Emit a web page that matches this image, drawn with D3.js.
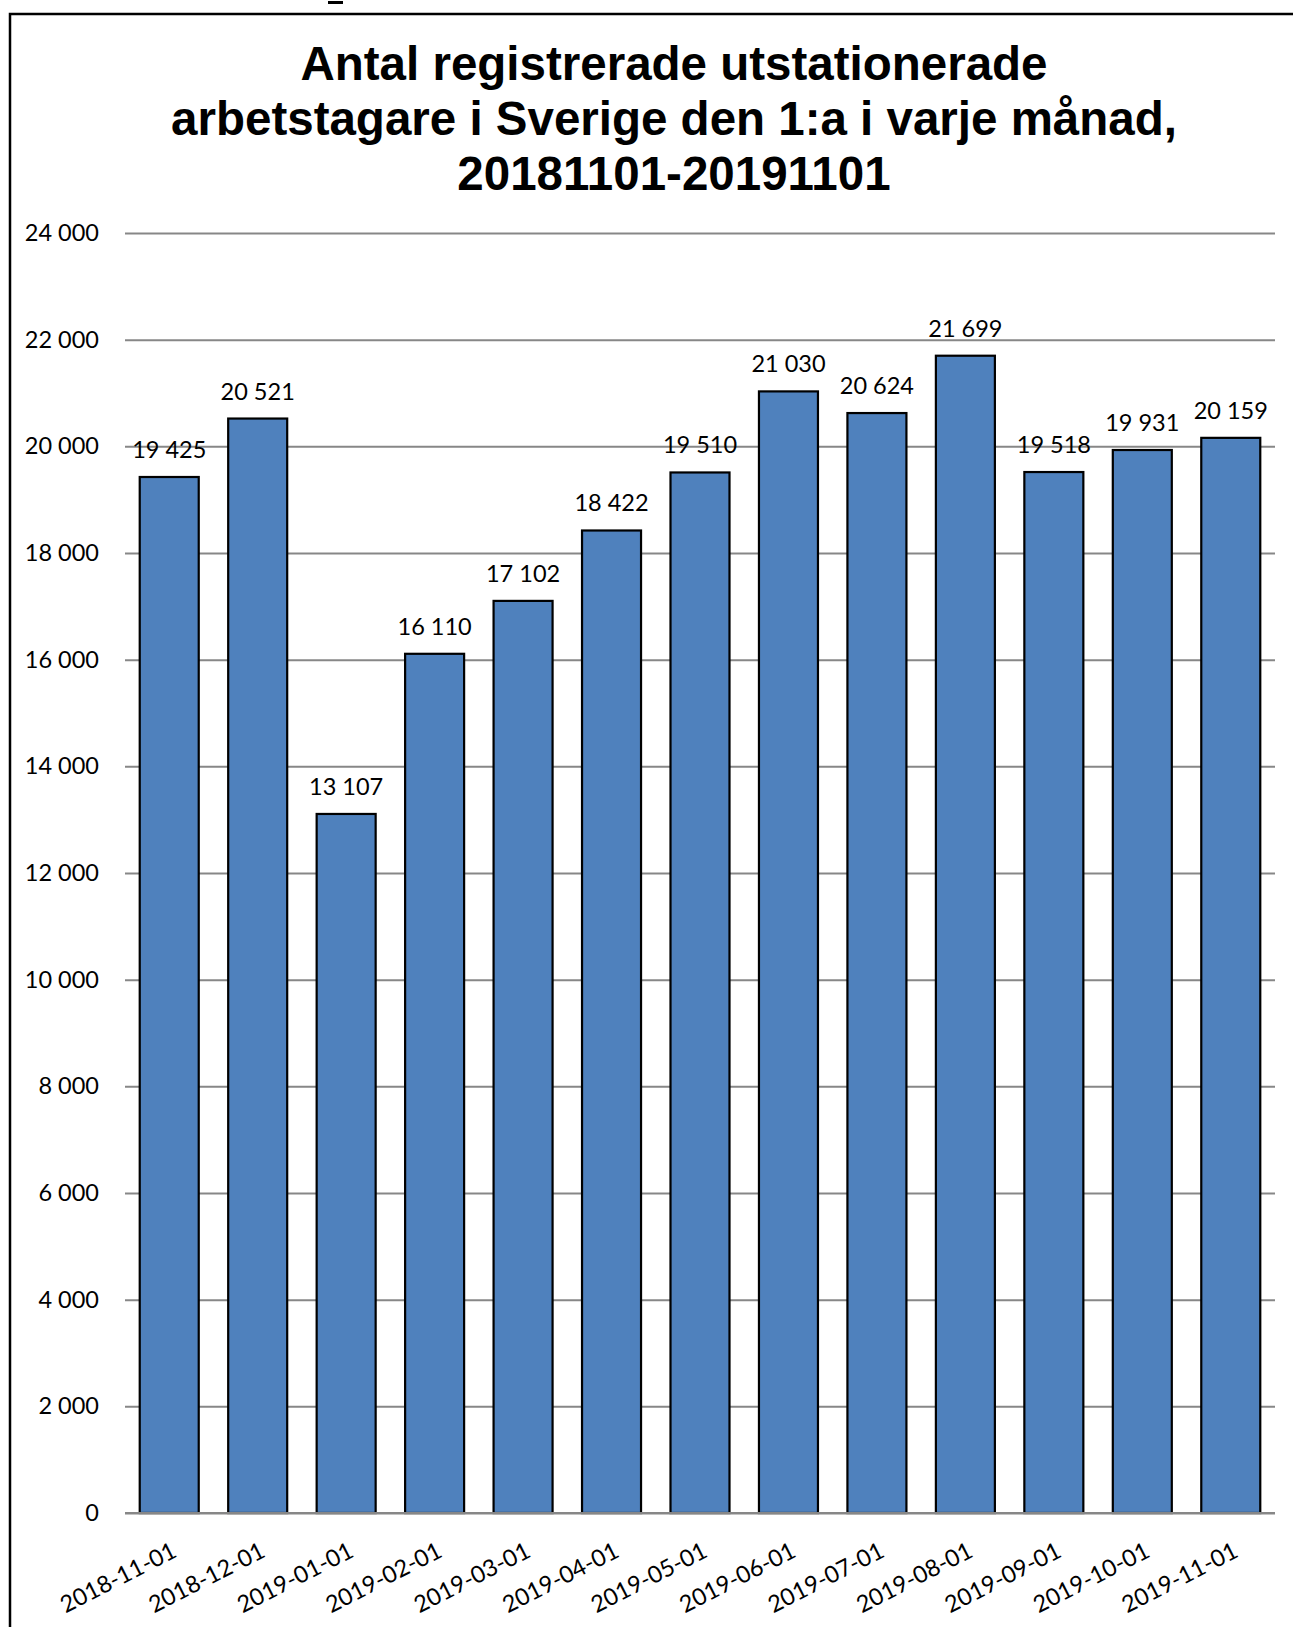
<!DOCTYPE html>
<html>
<head>
<meta charset="utf-8">
<script src="https://cdn.jsdelivr.net/npm/d3@7"></script>
<style>
  html, body { margin: 0; padding: 0; background: #fff; }
  svg { display: block; }
</style>
</head>
<body>
<script>
const titleLines = [
  "Antal registrerade utstationerade",
  "arbetstagare i Sverige den 1:a i varje månad,",
  "20181101-20191101"
];
const categories = [
  "2018-11-01","2018-12-01","2019-01-01","2019-02-01","2019-03-01","2019-04-01",
  "2019-05-01","2019-06-01","2019-07-01","2019-08-01","2019-09-01","2019-10-01","2019-11-01"
];
const values = [19425, 20521, 13107, 16110, 17102, 18422, 19510, 21030, 20624, 21699, 19518, 19931, 20159];
const yTicks = [0, 2000, 4000, 6000, 8000, 10000, 12000, 14000, 16000, 18000, 20000, 22000, 24000];

const W = 1293, H = 1627;
const fmt = v => d3.format(",")(v).replace(/,/g, " ");

const svg = d3.select("body").append("svg").attr("width", W).attr("height", H);

// frame
svg.append("rect").attr("x", 10).attr("y", 14).attr("width", 1400).attr("height", 1700)
  .attr("fill", "none").attr("stroke", "#000").attr("stroke-width", 2.5);
svg.append("line").attr("x1", 328).attr("x2", 343).attr("y1", 2.5).attr("y2", 2.5)
  .attr("stroke", "#000").attr("stroke-width", 3);

// title
svg.append("g").selectAll("text").data(titleLines).join("text")
  .attr("x", 674).attr("y", (d, i) => 80 + i * 55)
  .attr("text-anchor", "middle")
  .attr("font-family", "'Liberation Sans', Arial, sans-serif")
  .attr("font-weight", "bold").attr("font-size", 47.5)
  .attr("fill", "#000").text(d => d);

const x = d3.scaleBand().domain(categories).range([125, 1275]).paddingInner(0.333).paddingOuter(0.1665);
const y = d3.scaleLinear().domain([0, 24000]).range([1513, 233]);

// grid
const yAxis = d3.axisLeft(y).tickValues(yTicks).tickSize(-(1275 - 125)).tickFormat(fmt).tickPadding(26);
const gy = svg.append("g").attr("transform", "translate(125,0)").call(yAxis);
gy.select(".domain").remove();
gy.selectAll(".tick line").attr("stroke", "#878787").attr("stroke-width", 2);
gy.selectAll(".tick text").attr("font-family", "Lato, 'Open Sans', sans-serif")
  .attr("font-size", 23.5).attr("fill", "#000");

// bars
svg.append("g").selectAll("rect").data(values).join("rect")
  .attr("x", (d, i) => x(categories[i]))
  .attr("width", x.bandwidth())
  .attr("y", d => y(d))
  .attr("height", d => y(0) - y(d))
  .attr("fill", "#4F81BD").attr("stroke", "#000").attr("stroke-width", 2.2);

// zero line
svg.append("line").attr("x1", 125).attr("x2", 1275).attr("y1", y(0)).attr("y2", y(0))
  .attr("stroke", "#878787").attr("stroke-width", 2);

// value labels
svg.append("g").selectAll("text").data(values).join("text")
  .attr("x", (d, i) => x(categories[i]) + x.bandwidth() / 2)
  .attr("y", d => y(d) - 19)
  .attr("text-anchor", "middle")
  .attr("font-family", "Lato, 'Open Sans', sans-serif")
  .attr("font-size", 23.5).attr("fill", "#000")
  .text(d => fmt(d));

// x labels
svg.append("g").selectAll("text").data(categories).join("text")
  .attr("transform", d => `translate(${x(d) + x.bandwidth() / 2 + 9},1556) rotate(-27)`)
  .attr("text-anchor", "end")
  .attr("font-family", "Lato, 'Open Sans', sans-serif")
  .attr("font-size", 23.5).attr("fill", "#000")
  .text(d => d);
</script>
</body>
</html>
